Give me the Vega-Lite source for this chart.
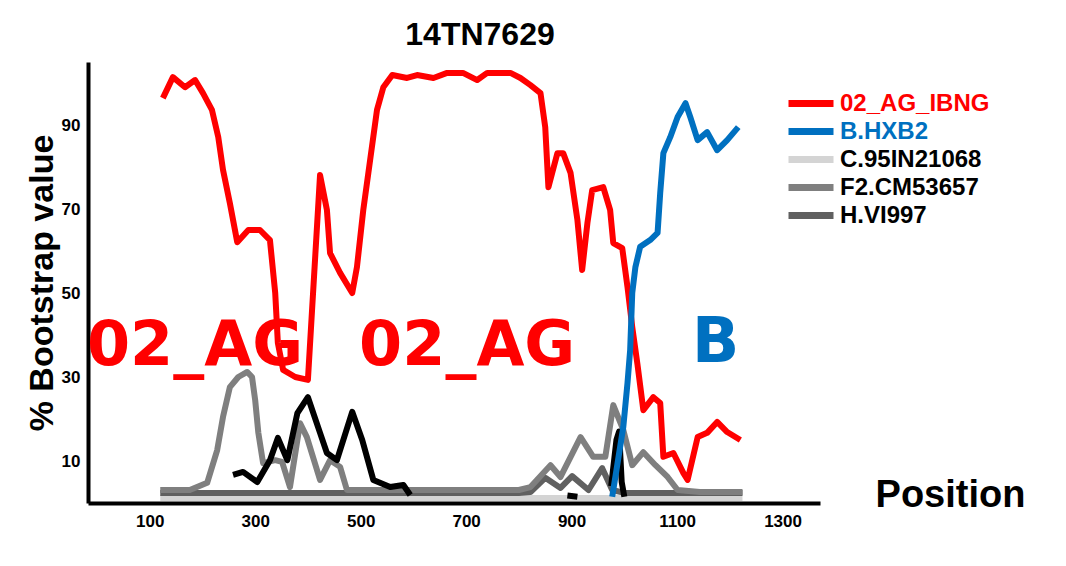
{
  "$schema": "https://vega.github.io/schema/vega-lite/v6.json",
  "autosize": {"type": "none"},
  "width": 732,
  "height": 441,
  "padding": {"left": 88, "top": 62, "right": 246, "bottom": 63},
  "background": "white",
  "title": {"text": "14TN7629", "anchor": "middle", "frame": "group", "dx": 26, "offset": 10, "fontSize": 32, "fontWeight": "bold", "font": "Liberation Sans", "color": "black"},
  "config": {"view": {"stroke": null}, "axis": {"grid": false}},
  "layer": [
    {
      "data": {"values": [
        {"series": "C.95IN21068", "pos": 120, "val": 1.2},
        {"series": "C.95IN21068", "pos": 400, "val": 1.2},
        {"series": "C.95IN21068", "pos": 800, "val": 1.2},
        {"series": "C.95IN21068", "pos": 1224, "val": 1.2},
        {"series": "H.VI997", "pos": 120, "val": 2.4},
        {"series": "H.VI997", "pos": 400, "val": 2.4},
        {"series": "H.VI997", "pos": 800, "val": 2.4},
        {"series": "H.VI997", "pos": 822, "val": 2.6},
        {"series": "H.VI997", "pos": 850, "val": 6},
        {"series": "H.VI997", "pos": 879, "val": 3.6},
        {"series": "H.VI997", "pos": 901, "val": 6.4},
        {"series": "H.VI997", "pos": 932, "val": 3.1},
        {"series": "H.VI997", "pos": 958, "val": 8.3},
        {"series": "H.VI997", "pos": 977, "val": 3.1},
        {"series": "H.VI997", "pos": 1000, "val": 2.4},
        {"series": "H.VI997", "pos": 1224, "val": 2.4},
        {"series": "F2.CM53657", "pos": 120, "val": 3.1},
        {"series": "F2.CM53657", "pos": 176, "val": 3.1},
        {"series": "F2.CM53657", "pos": 209, "val": 4.8},
        {"series": "F2.CM53657", "pos": 228, "val": 12.6},
        {"series": "F2.CM53657", "pos": 239, "val": 20.5},
        {"series": "F2.CM53657", "pos": 252, "val": 27.6},
        {"series": "F2.CM53657", "pos": 268, "val": 30},
        {"series": "F2.CM53657", "pos": 285, "val": 31.2},
        {"series": "F2.CM53657", "pos": 294, "val": 30},
        {"series": "F2.CM53657", "pos": 300, "val": 24.5},
        {"series": "F2.CM53657", "pos": 306, "val": 16.7},
        {"series": "F2.CM53657", "pos": 315, "val": 9.5},
        {"series": "F2.CM53657", "pos": 338, "val": 10.2},
        {"series": "F2.CM53657", "pos": 351, "val": 9.8},
        {"series": "F2.CM53657", "pos": 366, "val": 3.8},
        {"series": "F2.CM53657", "pos": 385, "val": 19},
        {"series": "F2.CM53657", "pos": 398, "val": 15.7},
        {"series": "F2.CM53657", "pos": 423, "val": 5.5},
        {"series": "F2.CM53657", "pos": 442, "val": 10.2},
        {"series": "F2.CM53657", "pos": 461, "val": 8.6},
        {"series": "F2.CM53657", "pos": 474, "val": 3.1},
        {"series": "F2.CM53657", "pos": 600, "val": 3.1},
        {"series": "F2.CM53657", "pos": 800, "val": 3.1},
        {"series": "F2.CM53657", "pos": 822, "val": 3.8},
        {"series": "F2.CM53657", "pos": 860, "val": 9},
        {"series": "F2.CM53657", "pos": 879, "val": 6.2},
        {"series": "F2.CM53657", "pos": 917, "val": 15.7},
        {"series": "F2.CM53657", "pos": 941, "val": 11},
        {"series": "F2.CM53657", "pos": 964, "val": 11},
        {"series": "F2.CM53657", "pos": 979, "val": 23.3},
        {"series": "F2.CM53657", "pos": 998, "val": 17.4},
        {"series": "F2.CM53657", "pos": 1015, "val": 9},
        {"series": "F2.CM53657", "pos": 1036, "val": 12.1},
        {"series": "F2.CM53657", "pos": 1059, "val": 9},
        {"series": "F2.CM53657", "pos": 1082, "val": 6.2},
        {"series": "F2.CM53657", "pos": 1101, "val": 3.1},
        {"series": "F2.CM53657", "pos": 1143, "val": 2.6},
        {"series": "F2.CM53657", "pos": 1224, "val": 2.6},
        {"series": "X", "pos": 258, "val": 6.7},
        {"series": "X", "pos": 277, "val": 7.4},
        {"series": "X", "pos": 304, "val": 5},
        {"series": "X", "pos": 328, "val": 10.2},
        {"series": "X", "pos": 343, "val": 15.5},
        {"series": "X", "pos": 361, "val": 10.2},
        {"series": "X", "pos": 380, "val": 21.4},
        {"series": "X", "pos": 400, "val": 25.2},
        {"series": "X", "pos": 423, "val": 16.7},
        {"series": "X", "pos": 436, "val": 11.9},
        {"series": "X", "pos": 455, "val": 10.2},
        {"series": "X", "pos": 484, "val": 21.7},
        {"series": "X", "pos": 503, "val": 15},
        {"series": "X", "pos": 524, "val": 5.5},
        {"series": "X", "pos": 556, "val": 3.8},
        {"series": "X", "pos": 581, "val": 4.3},
        {"series": "X", "pos": 594, "val": 1.9},
        {"series": "X", "pos": 700, "val": null},
        {"series": "X", "pos": 892, "val": 1.8},
        {"series": "X", "pos": 911, "val": 1.5},
        {"series": "X", "pos": 940, "val": null},
        {"series": "X", "pos": 975, "val": 4},
        {"series": "X", "pos": 985, "val": 15},
        {"series": "X", "pos": 990, "val": 17},
        {"series": "X", "pos": 995, "val": 5},
        {"series": "X", "pos": 1000, "val": 1.5},
        {"series": "02_AG_IBNG", "pos": 125, "val": 96.4},
        {"series": "02_AG_IBNG", "pos": 144, "val": 101.4},
        {"series": "02_AG_IBNG", "pos": 167, "val": 99},
        {"series": "02_AG_IBNG", "pos": 186, "val": 100.7},
        {"series": "02_AG_IBNG", "pos": 201, "val": 97.6},
        {"series": "02_AG_IBNG", "pos": 218, "val": 93.6},
        {"series": "02_AG_IBNG", "pos": 230, "val": 87.1},
        {"series": "02_AG_IBNG", "pos": 239, "val": 79.3},
        {"series": "02_AG_IBNG", "pos": 252, "val": 71.4},
        {"series": "02_AG_IBNG", "pos": 266, "val": 62.1},
        {"series": "02_AG_IBNG", "pos": 287, "val": 65},
        {"series": "02_AG_IBNG", "pos": 309, "val": 65},
        {"series": "02_AG_IBNG", "pos": 328, "val": 62.6},
        {"series": "02_AG_IBNG", "pos": 338, "val": 50},
        {"series": "02_AG_IBNG", "pos": 343, "val": 38.1},
        {"series": "02_AG_IBNG", "pos": 353, "val": 31.7},
        {"series": "02_AG_IBNG", "pos": 376, "val": 30},
        {"series": "02_AG_IBNG", "pos": 400, "val": 29.3},
        {"series": "02_AG_IBNG", "pos": 423, "val": 78.1},
        {"series": "02_AG_IBNG", "pos": 436, "val": 69.8},
        {"series": "02_AG_IBNG", "pos": 442, "val": 59.5},
        {"series": "02_AG_IBNG", "pos": 461, "val": 54.8},
        {"series": "02_AG_IBNG", "pos": 484, "val": 50},
        {"series": "02_AG_IBNG", "pos": 493, "val": 56.2},
        {"series": "02_AG_IBNG", "pos": 505, "val": 69.8},
        {"series": "02_AG_IBNG", "pos": 518, "val": 81.7},
        {"series": "02_AG_IBNG", "pos": 531, "val": 93.6},
        {"series": "02_AG_IBNG", "pos": 543, "val": 99},
        {"series": "02_AG_IBNG", "pos": 560, "val": 101.9},
        {"series": "02_AG_IBNG", "pos": 588, "val": 101.2},
        {"series": "02_AG_IBNG", "pos": 607, "val": 101.9},
        {"series": "02_AG_IBNG", "pos": 638, "val": 101.2},
        {"series": "02_AG_IBNG", "pos": 664, "val": 102.4},
        {"series": "02_AG_IBNG", "pos": 694, "val": 102.4},
        {"series": "02_AG_IBNG", "pos": 721, "val": 100.7},
        {"series": "02_AG_IBNG", "pos": 740, "val": 102.4},
        {"series": "02_AG_IBNG", "pos": 784, "val": 102.4},
        {"series": "02_AG_IBNG", "pos": 803, "val": 101.2},
        {"series": "02_AG_IBNG", "pos": 822, "val": 99.5},
        {"series": "02_AG_IBNG", "pos": 841, "val": 97.6},
        {"series": "02_AG_IBNG", "pos": 850, "val": 89.5},
        {"series": "02_AG_IBNG", "pos": 856, "val": 75.2},
        {"series": "02_AG_IBNG", "pos": 873, "val": 83.3},
        {"series": "02_AG_IBNG", "pos": 884, "val": 83.3},
        {"series": "02_AG_IBNG", "pos": 898, "val": 78.6},
        {"series": "02_AG_IBNG", "pos": 911, "val": 67.4},
        {"series": "02_AG_IBNG", "pos": 920, "val": 55.5},
        {"series": "02_AG_IBNG", "pos": 930, "val": 66.7},
        {"series": "02_AG_IBNG", "pos": 939, "val": 74.5},
        {"series": "02_AG_IBNG", "pos": 960, "val": 75.2},
        {"series": "02_AG_IBNG", "pos": 973, "val": 69.8},
        {"series": "02_AG_IBNG", "pos": 979, "val": 61.9},
        {"series": "02_AG_IBNG", "pos": 996, "val": 60.7},
        {"series": "02_AG_IBNG", "pos": 1006, "val": 51.4},
        {"series": "02_AG_IBNG", "pos": 1015, "val": 41.9},
        {"series": "02_AG_IBNG", "pos": 1025, "val": 32.9},
        {"series": "02_AG_IBNG", "pos": 1036, "val": 22.1},
        {"series": "02_AG_IBNG", "pos": 1055, "val": 25.2},
        {"series": "02_AG_IBNG", "pos": 1068, "val": 23.8},
        {"series": "02_AG_IBNG", "pos": 1074, "val": 11},
        {"series": "02_AG_IBNG", "pos": 1093, "val": 11.9},
        {"series": "02_AG_IBNG", "pos": 1112, "val": 7.1},
        {"series": "02_AG_IBNG", "pos": 1120, "val": 5.5},
        {"series": "02_AG_IBNG", "pos": 1139, "val": 15.7},
        {"series": "02_AG_IBNG", "pos": 1157, "val": 16.7},
        {"series": "02_AG_IBNG", "pos": 1176, "val": 19.3},
        {"series": "02_AG_IBNG", "pos": 1195, "val": 16.9},
        {"series": "02_AG_IBNG", "pos": 1220, "val": 15},
        {"series": "B.HXB2", "pos": 977, "val": 1.5},
        {"series": "B.HXB2", "pos": 998, "val": 18.1},
        {"series": "B.HXB2", "pos": 1006, "val": 28.6},
        {"series": "B.HXB2", "pos": 1011, "val": 36.4},
        {"series": "B.HXB2", "pos": 1015, "val": 50},
        {"series": "B.HXB2", "pos": 1021, "val": 56.2},
        {"series": "B.HXB2", "pos": 1030, "val": 61},
        {"series": "B.HXB2", "pos": 1049, "val": 62.6},
        {"series": "B.HXB2", "pos": 1063, "val": 64.3},
        {"series": "B.HXB2", "pos": 1068, "val": 73.8},
        {"series": "B.HXB2", "pos": 1074, "val": 83.3},
        {"series": "B.HXB2", "pos": 1087, "val": 87.1},
        {"series": "B.HXB2", "pos": 1101, "val": 91.9},
        {"series": "B.HXB2", "pos": 1116, "val": 95.2},
        {"series": "B.HXB2", "pos": 1125, "val": 91.9},
        {"series": "B.HXB2", "pos": 1139, "val": 86.4},
        {"series": "B.HXB2", "pos": 1157, "val": 88.3},
        {"series": "B.HXB2", "pos": 1176, "val": 84},
        {"series": "B.HXB2", "pos": 1195, "val": 86.4},
        {"series": "B.HXB2", "pos": 1216, "val": 89.5}
      ]},
      "mark": {"type": "line", "strokeWidth": 6, "strokeJoin": "round", "strokeCap": "butt"},
      "encoding": {
        "x": {"field": "pos", "type": "quantitative",
          "scale": {"domain": [-17, 1371], "nice": false, "zero": false},
          "axis": {"values": [100, 300, 500, 700, 900, 1100, 1300], "format": "d", "ticks": false, "domainColor": "black", "domainWidth": 4,
            "labelFontSize": 17, "labelFontWeight": "bold", "labelFont": "Liberation Sans", "labelColor": "black", "labelPadding": 10,
            "title": "Position", "titleX": 862, "titleY": -8, "titleAlign": "center", "titleBaseline": "middle",
            "titleFontSize": 38, "titleFontWeight": "bold", "titleFont": "Liberation Sans", "titleColor": "black"}},
        "y": {"field": "val", "type": "quantitative",
          "scale": {"domain": [0, 105], "nice": false},
          "axis": {"values": [10, 30, 50, 70, 90], "ticks": false, "domainColor": "black", "domainWidth": 4,
            "labelFontSize": 17, "labelFontWeight": "bold", "labelFont": "Liberation Sans", "labelColor": "black", "labelPadding": 8,
            "title": "% Bootstrap value", "titleFontSize": 34, "titleFontWeight": "bold", "titleFont": "Liberation Sans", "titleColor": "black", "titlePadding": 2}},
        "color": {"field": "series", "type": "nominal",
          "scale": {"domain": ["02_AG_IBNG", "B.HXB2", "C.95IN21068", "F2.CM53657", "H.VI997", "X"],
                    "range": ["#ff0000", "#0070c0", "#d4d4d4", "#7f7f7f", "#606060", "#000000"]},
          "legend": {"orient": "none", "legendX": 722, "legendY": 28, "title": null,
            "values": ["02_AG_IBNG", "B.HXB2", "C.95IN21068", "F2.CM53657", "H.VI997"],
            "symbolType": "M-3.5,0H1", "symbolStrokeWidth": 7, "symbolSize": 400,
            "labelFontSize": 24, "labelFont": "Liberation Sans", "labelFontWeight": "bold", "labelOffset": 3, "rowPadding": -2,
            "encode": {
              "labels": {"update": {"fill": {"signal": "datum.value === '02_AG_IBNG' ? '#ff0000' : datum.value === 'B.HXB2' ? '#0070c0' : '#000000'"}}},
              "symbols": {"update": {"stroke": {"signal": "datum.value === '02_AG_IBNG' ? '#ff0000' : datum.value === 'B.HXB2' ? '#0070c0' : datum.value === 'C.95IN21068' ? '#e8e8e8' : datum.value === 'F2.CM53657' ? '#999999' : '#666666'"}}}
            }}}
      }
    },
    {
      "data": {"values": [
        {"label": "02_AG", "pos": 186, "val": 37.5},
        {"label": "02_AG", "pos": 702, "val": 37.5},
        {"label": "B", "pos": 1173, "val": 38}
      ]},
      "mark": {"type": "text", "fontSize": 62, "fontWeight": "bold", "font": "DejaVu Sans", "align": "center", "baseline": "middle", "clip": false},
      "encoding": {
        "x": {"field": "pos", "type": "quantitative"},
        "y": {"field": "val", "type": "quantitative"},
        "text": {"field": "label"},
        "color": {"condition": {"test": "datum.label === 'B'", "value": "#0070c0"}, "value": "#ff0000"}
      }
    }
  ]
}
